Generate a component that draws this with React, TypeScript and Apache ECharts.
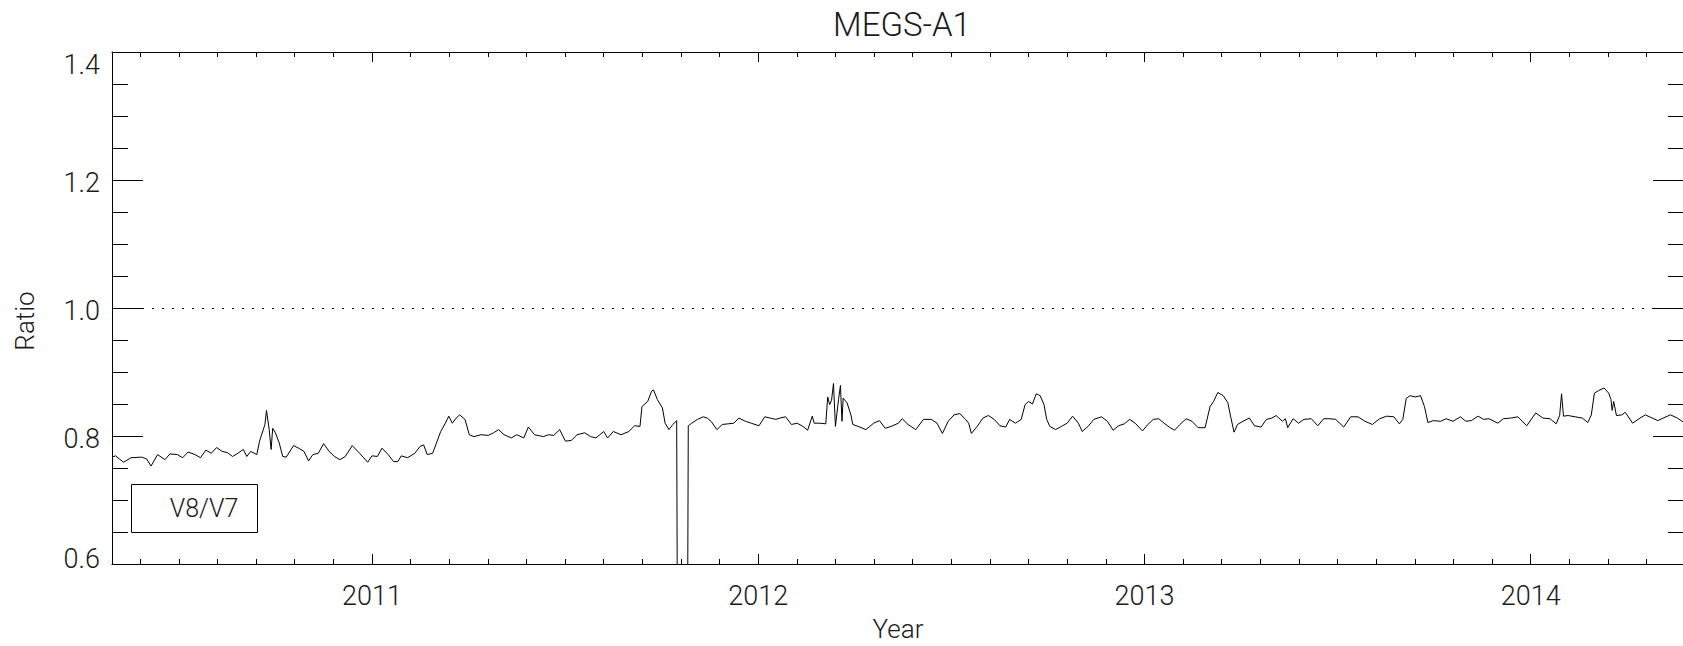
import React, { useEffect, useRef } from "react";
import * as echarts from "echarts";

const TITLE = "MEGS-A1";
const X_NAME = "Year";
const Y_NAME = "Ratio";
const LEGEND_TEXT = "V8/V7";
const X_MIN = 2010.327;
const X_MAX = 2014.397;
const Y_MIN = 0.6;
const Y_MAX = 1.4;
const Y_STEP = 0.2;
const REF_LEVEL = 1.0;

const years: number[] = [
  2010.327, 2010.336, 2010.357, 2010.376, 2010.404, 2010.417, 2010.428, 2010.445, 2010.464, 2010.477,
  2010.496, 2010.510, 2010.524, 2010.542, 2010.556, 2010.570, 2010.584, 2010.598, 2010.612, 2010.626,
  2010.639, 2010.653, 2010.667, 2010.676, 2010.686, 2010.702, 2010.709, 2010.723, 2010.727, 2010.734,
  2010.739, 2010.743, 2010.750, 2010.760, 2010.769, 2010.778, 2010.797, 2010.810, 2010.824, 2010.836,
  2010.847, 2010.861, 2010.875, 2010.889, 2010.903, 2010.917, 2010.931, 2010.949, 2010.968, 2010.989,
  2011.000, 2011.014, 2011.026, 2011.042, 2011.056, 2011.067, 2011.076, 2011.092, 2011.111, 2011.125,
  2011.134, 2011.143, 2011.157, 2011.167, 2011.178, 2011.190, 2011.199, 2011.208, 2011.218, 2011.227,
  2011.241, 2011.252, 2011.264, 2011.282, 2011.301, 2011.315, 2011.328, 2011.342, 2011.361, 2011.375,
  2011.393, 2011.405, 2011.421, 2011.444, 2011.457, 2011.471, 2011.486, 2011.501, 2011.516, 2011.531,
  2011.551, 2011.566, 2011.580, 2011.600, 2011.610, 2011.625, 2011.645, 2011.665, 2011.680, 2011.694,
  2011.699, 2011.714, 2011.724, 2011.729, 2011.739, 2011.752, 2011.759, 2011.769, 2011.779, 2011.789,
  2011.792, 2011.804, 2011.816, 2011.819, 2011.828, 2011.843, 2011.858, 2011.868, 2011.878, 2011.893,
  2011.907, 2011.922, 2011.937, 2011.950, 2011.967, 2011.982, 2012.002, 2012.017, 2012.031, 2012.046,
  2012.056, 2012.071, 2012.086, 2012.101, 2012.116, 2012.128, 2012.140, 2012.145, 2012.160, 2012.175,
  2012.180, 2012.185, 2012.190, 2012.195, 2012.200, 2012.208, 2012.213, 2012.217, 2012.220, 2012.230,
  2012.240, 2012.245, 2012.259, 2012.279, 2012.299, 2012.314, 2012.329, 2012.344, 2012.363, 2012.373,
  2012.388, 2012.408, 2012.428, 2012.448, 2012.463, 2012.477, 2012.492, 2012.507, 2012.522, 2012.537,
  2012.545, 2012.552, 2012.567, 2012.582, 2012.596, 2012.611, 2012.626, 2012.641, 2012.651, 2012.666,
  2012.681, 2012.691, 2012.700, 2012.710, 2012.720, 2012.730, 2012.740, 2012.747, 2012.755, 2012.770,
  2012.785, 2012.800, 2012.814, 2012.829, 2012.839, 2012.854, 2012.869, 2012.889, 2012.904, 2012.919,
  2012.933, 2012.948, 2012.962, 2012.976, 2012.995, 2013.009, 2013.023, 2013.037, 2013.051, 2013.064,
  2013.078, 2013.092, 2013.108, 2013.123, 2013.139, 2013.157, 2013.170, 2013.179, 2013.190, 2013.204,
  2013.216, 2013.223, 2013.232, 2013.241, 2013.255, 2013.272, 2013.285, 2013.302, 2013.316, 2013.330,
  2013.341, 2013.357, 2013.365, 2013.371, 2013.385, 2013.399, 2013.413, 2013.432, 2013.449, 2013.464,
  2013.480, 2013.495, 2013.516, 2013.534, 2013.553, 2013.571, 2013.590, 2013.609, 2013.627, 2013.646,
  2013.660, 2013.669, 2013.678, 2013.688, 2013.701, 2013.715, 2013.725, 2013.734, 2013.748, 2013.767,
  2013.781, 2013.799, 2013.818, 2013.832, 2013.846, 2013.864, 2013.878, 2013.892, 2013.915, 2013.929,
  2013.948, 2013.967, 2013.990, 2014.013, 2014.032, 2014.050, 2014.066, 2014.075, 2014.080, 2014.085,
  2014.097, 2014.115, 2014.134, 2014.148, 2014.157, 2014.165, 2014.176, 2014.190, 2014.202, 2014.208,
  2014.211, 2014.215, 2014.222, 2014.236, 2014.245, 2014.264, 2014.283, 2014.297, 2014.315, 2014.329,
  2014.343, 2014.362, 2014.380, 2014.397,
];

const ratios: number[] = [
  0.767, 0.769, 0.759, 0.766, 0.767, 0.764, 0.753, 0.771, 0.763, 0.772,
  0.771, 0.766, 0.775, 0.771, 0.766, 0.778, 0.773, 0.782, 0.776, 0.774,
  0.768, 0.773, 0.779, 0.768, 0.776, 0.771, 0.792, 0.818, 0.840, 0.810,
  0.779, 0.812, 0.805, 0.789, 0.768, 0.767, 0.785, 0.781, 0.776, 0.761,
  0.771, 0.773, 0.788, 0.776, 0.768, 0.763, 0.768, 0.785, 0.773, 0.759,
  0.769, 0.768, 0.781, 0.771, 0.760, 0.760, 0.769, 0.766, 0.773, 0.784,
  0.786, 0.771, 0.773, 0.789, 0.807, 0.820, 0.831, 0.820, 0.828, 0.833,
  0.826, 0.802, 0.799, 0.802, 0.801, 0.805, 0.810, 0.802, 0.797, 0.802,
  0.797, 0.814, 0.802, 0.799, 0.802, 0.801, 0.810, 0.792, 0.793, 0.802,
  0.805, 0.799, 0.797, 0.807, 0.797, 0.807, 0.802, 0.807, 0.816, 0.815,
  0.846, 0.854, 0.870, 0.872, 0.857, 0.844, 0.820, 0.810, 0.818, 0.824,
  0.300, 0.300, 0.300, 0.816, 0.820, 0.826, 0.830, 0.828, 0.823, 0.810,
  0.818, 0.819, 0.820, 0.828, 0.823, 0.820, 0.816, 0.830, 0.828, 0.826,
  0.828, 0.830, 0.818, 0.820, 0.815, 0.809, 0.831, 0.820, 0.820, 0.819,
  0.861, 0.849, 0.856, 0.882, 0.815, 0.857, 0.879, 0.823, 0.859, 0.852,
  0.833, 0.818, 0.815, 0.810, 0.820, 0.824, 0.812, 0.815, 0.820, 0.827,
  0.818, 0.810, 0.826, 0.826, 0.820, 0.804, 0.823, 0.833, 0.835, 0.826,
  0.820, 0.804, 0.815, 0.828, 0.832, 0.826, 0.816, 0.814, 0.826, 0.820,
  0.826, 0.849, 0.854, 0.850, 0.866, 0.863, 0.849, 0.826, 0.815, 0.810,
  0.815, 0.820, 0.831, 0.820, 0.807, 0.815, 0.826, 0.830, 0.823, 0.809,
  0.816, 0.819, 0.826, 0.820, 0.808, 0.818, 0.826, 0.827, 0.820, 0.814,
  0.809, 0.818, 0.827, 0.823, 0.813, 0.813, 0.846, 0.854, 0.868, 0.863,
  0.852, 0.831, 0.806, 0.818, 0.823, 0.828, 0.816, 0.814, 0.826, 0.828,
  0.832, 0.823, 0.827, 0.813, 0.827, 0.820, 0.826, 0.827, 0.816, 0.827,
  0.827, 0.826, 0.814, 0.830, 0.830, 0.823, 0.818, 0.827, 0.831, 0.830,
  0.819, 0.826, 0.859, 0.863, 0.861, 0.863, 0.846, 0.821, 0.824, 0.823,
  0.827, 0.823, 0.830, 0.823, 0.824, 0.831, 0.826, 0.827, 0.820, 0.827,
  0.828, 0.830, 0.816, 0.836, 0.828, 0.827, 0.819, 0.832, 0.866, 0.831,
  0.832, 0.830, 0.828, 0.821, 0.833, 0.867, 0.871, 0.875, 0.867, 0.857,
  0.840, 0.854, 0.832, 0.833, 0.837, 0.820, 0.828, 0.833, 0.828, 0.824,
  0.828, 0.833, 0.828, 0.821,
];

const FONT = "Roboto";
const INK = "#1a1a1a";

export default function App() {
  const ref = useRef<HTMLDivElement>(null);

  useEffect(() => {
    if (!ref.current) return;
    const chart = echarts.init(ref.current, null, { renderer: "svg" });
    const data = years.map((y, i) => [y, ratios[i]]);

    const xCommon = {
      type: "value" as const,
      min: X_MIN,
      max: X_MAX,
      axisLine: { show: true, lineStyle: { color: "#000", width: 1 } },
      axisTick: { show: true, inside: true, length: 10, lineStyle: { color: "#000", width: 1 } },
      minorTick: { show: true, splitNumber: 10, length: 5, lineStyle: { color: "#000", width: 1 } },
      splitLine: { show: false },
      minorSplitLine: { show: false },
    };
    const yCommon = {
      type: "value" as const,
      min: Y_MIN,
      max: Y_MAX,
      interval: Y_STEP,
      axisTick: { show: true, inside: true, length: 31, lineStyle: { color: "#000", width: 1 } },
      minorTick: { show: true, splitNumber: 4, length: 16, lineStyle: { color: "#000", width: 1 } },
      splitLine: { show: false },
      minorSplitLine: { show: false },
    };
    const labelFont = { fontFamily: FONT, fontWeight: 300, fontSize: 27, color: INK };

    chart.setOption({
      animation: false,
      backgroundColor: "#fff",
      title: {
        text: TITLE,
        left: 897,
        textAlign: "center",
        top: 3,
        textStyle: { fontFamily: FONT, fontWeight: 300, fontSize: 33, color: INK },
      },
      grid: {
        left: 112,
        right: -1,
        top: 52,
        bottom: 82,
        containLabel: false,
        outerBoundsMode: "none",
      },
      xAxis: [
        {
          ...xCommon,
          position: "bottom",
          name: X_NAME,
          nameLocation: "middle",
          nameGap: 52,
          nameTextStyle: { fontFamily: FONT, fontWeight: 300, fontSize: 26, color: INK },
          axisLabel: {
            show: true,
            margin: 18,
            showMinLabel: false,
            showMaxLabel: false,
            ...labelFont,
            formatter: (v: number) => String(Math.round(v)),
          },
        },
        { ...xCommon, position: "top", axisLabel: { show: false } },
      ],
      yAxis: [
        {
          ...yCommon,
          position: "left",
          axisLine: { show: true, lineStyle: { color: "#000", width: 1 } },
          name: Y_NAME,
          nameLocation: "middle",
          nameGap: 74,
          nameTextStyle: { fontFamily: FONT, fontWeight: 300, fontSize: 26, color: INK, padding: [0, 26, 0, 0] },
          axisLabel: {
            show: true,
            margin: 12,
            ...labelFont,
            formatter: (v: number) => {
              const s = v.toFixed(1);
              if (Math.abs(v - Y_MIN) < 1e-6) return "{lo|" + s + "}";
              if (Math.abs(v - Y_MAX) < 1e-6) return "{hi|" + s + "}";
              return "{n|" + s + "}";
            },
            rich: {
              n: { ...labelFont, padding: [5, 0, 0, 0] },
              lo: { ...labelFont, padding: [0, 0, 10, 0] },
              hi: { ...labelFont, padding: [26, 0, 0, 0] },
            },
          },
        },
        {
          ...yCommon,
          position: "right",
          axisLine: { show: false },
          axisLabel: { show: false },
        },
      ],
      series: [
        {
          type: "line",
          data,
          xAxisIndex: 0,
          yAxisIndex: 0,
          showSymbol: false,
          symbol: "none",
          clip: true,
          lineStyle: { color: "#000", width: 1 },
          markLine: {
            silent: true,
            symbol: ["none", "none"],
            label: { show: false },
            lineStyle: { color: "#000", width: 1, type: [2, 8] },
            data: [{ yAxis: REF_LEVEL }],
          },
        },
      ],
      graphic: [
        {
          type: "rect",
          shape: { x: 131.5, y: 484.5, width: 126, height: 48 },
          style: { fill: "none", stroke: "#000", lineWidth: 1 },
          silent: true,
        },
        {
          type: "text",
          x: 204,
          y: 508,
          style: {
            text: LEGEND_TEXT,
            fontFamily: FONT,
            fontWeight: 300,
            fontSize: 25,
            fill: INK,
            align: "center",
            verticalAlign: "middle",
          },
          silent: true,
        },
      ],
    });

    return () => chart.dispose();
  }, []);

  return (
    <div
      ref={ref}
      style={{ position: "absolute", left: 0, top: 0, width: 1683, height: 646, background: "#fff" }}
    />
  );
}
